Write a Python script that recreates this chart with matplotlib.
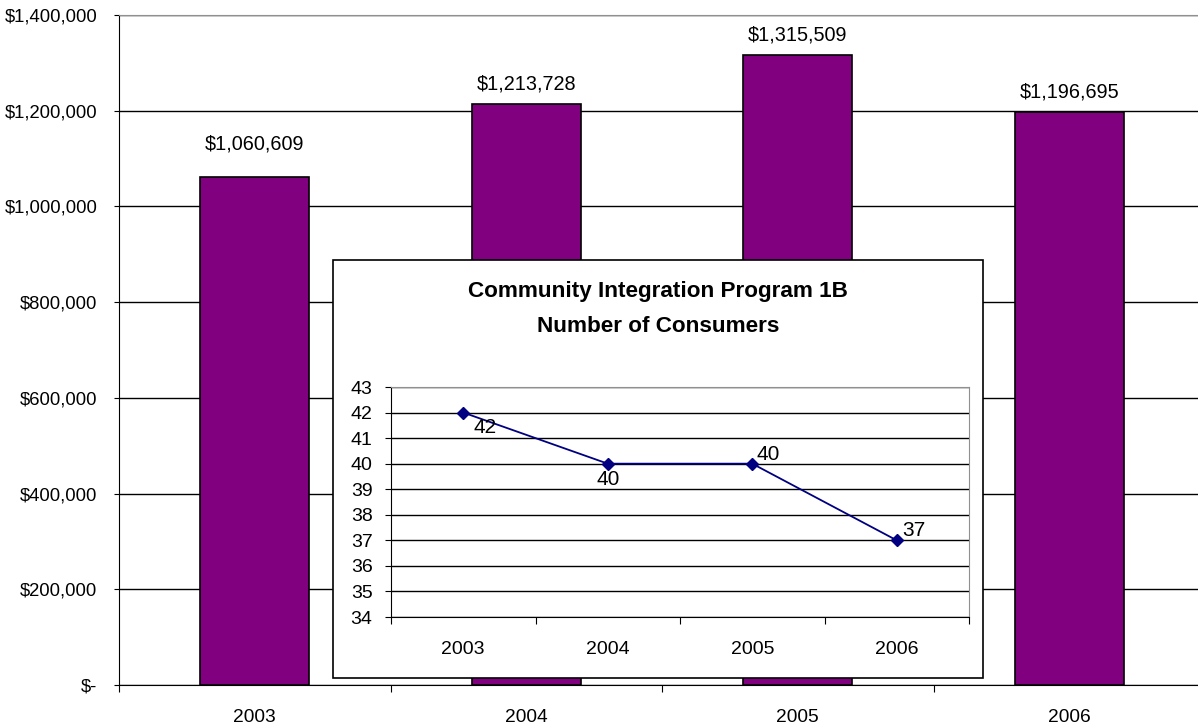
import matplotlib
matplotlib.use('Agg')
import matplotlib.pyplot as plt
from matplotlib.patches import Rectangle

plt.rcParams['font.family'] = ['Liberation Sans', 'DejaVu Sans']

# Program funding by year
years = ['2003', '2004', '2005', '2006']
funding = [1060609, 1213728, 1315509, 1196695]
funding_label_gap = [24, 14.5, 14.5, 14.5]  # points above bar top

# Number of consumers by year (inset)
consumers = [42, 40, 40, 37]
# label offsets (points) from each marker
consumer_label_off = [(16, -11), (0, -11.5), (11.5, 6.5), (12.2, 7.2)]

fig = plt.figure(figsize=(11.98, 7.28), dpi=100)
W, H = 1198, 728


def fig_rect(x0, y0, x1, y1):
    # pixel box (top-left origin) -> figure fraction rect
    return [x0 / W, 1 - y1 / H, (x1 - x0) / W, (y1 - y0) / H]


# ---- main bar chart ----
ax = fig.add_axes(fig_rect(119, 15, 1205, 685))
x = range(len(years))
ax.bar(x, funding, width=0.4, color='#800080', edgecolor='black', linewidth=1.2, zorder=3)
ax.set_xlim(-0.5, len(years) - 0.5)
ax.set_ylim(0, 1400000)
ax.set_yticks(range(0, 1400001, 200000))
ax.set_yticklabels(['$-'] + [f'${v:,}' for v in range(200000, 1400001, 200000)], fontsize=13.3)
ax.yaxis.grid(True, color='black', linewidth=1, zorder=0)
ax.set_xticks([i - 0.5 for i in range(len(years) + 1)], minor=False)
ax.set_xticklabels([])
ax.set_xticks(list(x), minor=True)
ax.set_xticklabels(years, minor=True, fontsize=13.8)
ax.tick_params(axis='x', which='minor', length=0, pad=17)
ax.tick_params(axis='x', which='major', length=5, direction='out')
ax.tick_params(axis='y', length=3.6, direction='out', pad=12)
ax.spines['right'].set_visible(False)
ax.spines['top'].set_color('#909090')
for i, v in enumerate(funding):
    ax.annotate(f'${v:,}', (i, v), xytext=(0, funding_label_gap[i]), textcoords='offset points',
                ha='center', va='center', fontsize=14.3)

# ---- inset box with consumer line chart ----
box = Rectangle((333 / W, 1 - 678 / H), (983 - 333) / W, (678 - 260) / H,
                transform=fig.transFigure, facecolor='white', edgecolor='black',
                linewidth=1.2, zorder=10)
fig.patches.append(box)
cx = (333 + 983) / 2 / W
fig.text(cx, 1 - 292 / H, 'Community Integration Program 1B',
         ha='center', va='center', fontsize=16.2, fontweight='bold', zorder=11)
fig.text(cx, 1 - 327 / H, 'Number of Consumers',
         ha='center', va='center', fontsize=16.2, fontweight='bold', zorder=11)

ins = fig.add_axes(fig_rect(391, 387, 969, 617))
ins.set_zorder(12)
ins.plot(range(len(years)), consumers, color='#000080', marker='D', markersize=6.5,
         linewidth=1.3, zorder=3, clip_on=False)
ins.set_xlim(-0.5, len(years) - 0.5)
ins.set_ylim(34, 43)
ins.set_yticks(range(34, 44))
ins.tick_params(axis='y', labelsize=14, length=4.3, pad=9)
ins.yaxis.grid(True, color='black', linewidth=1, zorder=0)
ins.set_xticks([i - 0.5 for i in range(len(years) + 1)])
ins.set_xticklabels([])
ins.set_xticks(list(range(len(years))), minor=True)
ins.set_xticklabels(years, minor=True, fontsize=14)
ins.tick_params(axis='x', which='minor', length=0, pad=17)
ins.tick_params(axis='x', which='major', length=5, direction='out')
ins.spines['right'].set_color('#909090')
ins.spines['top'].set_color('#909090')
for i, v in enumerate(consumers):
    ins.annotate(str(v), (i, v), xytext=consumer_label_off[i], textcoords='offset points',
                 ha='center', va='center', fontsize=15)

fig.savefig('out.png', dpi=100)
plt.close(fig)
